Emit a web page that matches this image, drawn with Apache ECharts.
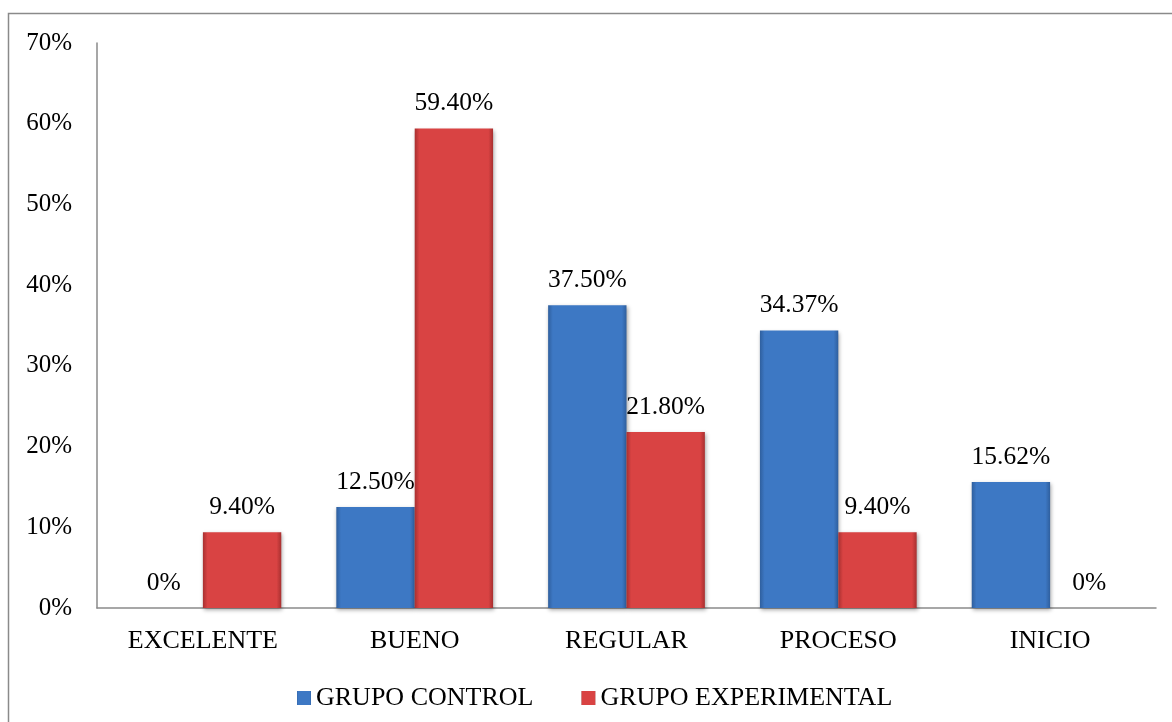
<!DOCTYPE html>
<html>
<head>
<meta charset="utf-8">
<script src="https://cdn.jsdelivr.net/npm/echarts@6/dist/echarts.min.js"></script>
<style>
html,body{margin:0;padding:0;background:#fff;}
#chart{width:1172px;height:722px;}
</style>
</head>
<body>
<div id="chart"></div>
<script>
const categories = ['EXCELENTE', 'BUENO', 'REGULAR', 'PROCESO', 'INICIO'];
const seriesNames = ['GRUPO CONTROL', 'GRUPO EXPERIMENTAL'];
const grupoControl = [0, 12.50, 37.50, 34.37, 15.62];
const grupoExperimental = [9.40, 59.40, 21.80, 9.40, 0];
const yTicks = [0, 10, 20, 30, 40, 50, 60, 70];

const FONT = "'Liberation Serif', 'Times New Roman', serif";

function fill(dark, main) {
  return {
    type: 'linear', x: 0, y: 0, x2: 1, y2: 0,
    colorStops: [
      {offset: 0, color: dark},
      {offset: 0.06, color: main},
      {offset: 0.94, color: main},
      {offset: 1, color: dark}
    ]
  };
}
const blueFill = fill('#2f5f9e', '#3d78c4');
const redFill = fill('#a83030', '#d94343');

function fmt(p) {
  const v = p.value;
  return v === 0 ? '0%' : v.toFixed(2) + '%';
}

const chart = echarts.init(document.getElementById('chart'));
chart.setOption({
  animation: false,
  backgroundColor: '#fff',
  textStyle: {fontFamily: FONT},
  graphic: [{
    type: 'rect',
    shape: {x: 8.5, y: 13.5, width: 1300, height: 800},
    style: {fill: 'none', stroke: '#8a8a8a', lineWidth: 1.5},
    silent: true, z: -10
  }],
  grid: {left: 97, right: 16, top: 43, bottom: 114, containLabel: false},
  legend: {
    data: seriesNames,
    left: 292,
    top: 680,
    itemWidth: 14,
    itemHeight: 14,
    itemGap: 48,
    icon: 'rect',
    textStyle: {fontFamily: FONT, fontSize: 26, color: '#000'}
  },
  xAxis: {
    type: 'category',
    data: categories,
    axisLine: {lineStyle: {color: '#8a8a8a', width: 1.5}},
    axisTick: {show: false},
    axisLabel: {fontFamily: FONT, fontSize: 26, color: '#000', margin: 20}
  },
  yAxis: {
    type: 'value',
    min: 0, max: 70, interval: 10,
    axisLine: {show: true, lineStyle: {color: '#8a8a8a', width: 1.5}},
    axisTick: {show: false},
    splitLine: {show: false},
    axisLabel: {
      fontFamily: FONT, fontSize: 25, color: '#000', margin: 25,
      formatter: v => yTicks.includes(v) ? v + '%' : ''
    }
  },
  series: [
    {
      name: seriesNames[0], type: 'bar', data: grupoControl,
      barGap: '0%', barCategoryGap: '26%',
      itemStyle: {color: blueFill, shadowBlur: 4, shadowOffsetX: 1, shadowOffsetY: 2, shadowColor: 'rgba(0,0,0,0.35)'},
      label: {show: true, position: 'top', distance: 12, formatter: fmt, fontFamily: FONT, fontSize: 25.5, color: '#000'}
    },
    {
      name: seriesNames[1], type: 'bar', data: grupoExperimental,
      barGap: '0%', barCategoryGap: '26%',
      itemStyle: {color: redFill, shadowBlur: 4, shadowOffsetX: 1, shadowOffsetY: 2, shadowColor: 'rgba(0,0,0,0.35)'},
      label: {show: true, position: 'top', distance: 12, formatter: fmt, fontFamily: FONT, fontSize: 25.5, color: '#000'}
    }
  ]
});
</script>
</body>
</html>
